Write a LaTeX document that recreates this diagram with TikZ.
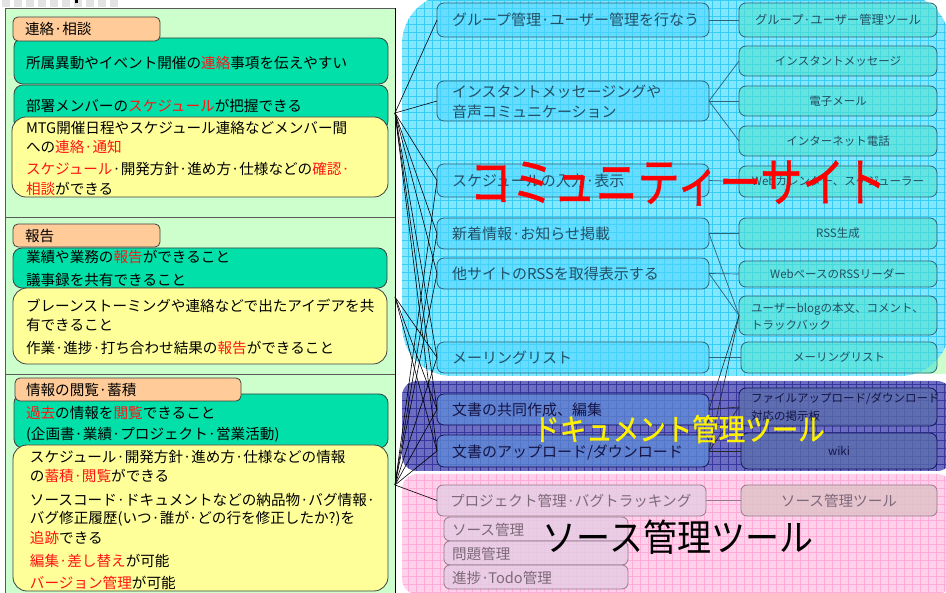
\documentclass[tikz,border=0pt]{standalone}
\usepackage{fontspec}
\usepackage{graphicx}
\setmainfont{Noto Sans CJK JP}
\newfontfamily\titlefont{Noto Sans CJK JP}[FakeBold=0.9]
\usetikzlibrary{fit}
\definecolor{panelgreen}{RGB}{204,255,204}
\definecolor{hdrorange}{RGB}{255,204,153}
\definecolor{boxgreen}{RGB}{0,224,168}
\definecolor{boxyellow}{RGB}{255,255,153}
\definecolor{cyanbg}{RGB}{130,230,255}
\definecolor{cyangrid}{RGB}{55,205,245}
\definecolor{navybg}{RGB}{108,108,192}
\definecolor{navygrid}{RGB}{55,55,160}
\definecolor{pinkbg}{RGB}{255,208,234}
\definecolor{pinkgrid}{RGB}{255,172,218}
\definecolor{cbox}{RGB}{80,215,255}
\definecolor{cbord}{RGB}{45,100,120}
\definecolor{ctext}{RGB}{35,80,100}
\definecolor{tbox}{RGB}{80,225,205}
\definecolor{nbox}{RGB}{95,140,215}
\definecolor{nbord}{RGB}{20,20,90}
\definecolor{ntext}{RGB}{20,20,70}
\definecolor{nrbox}{RGB}{90,110,170}
\definecolor{pbox}{RGB}{228,205,228}
\definecolor{pbord}{RGB}{150,120,140}
\definecolor{ptext}{RGB}{125,105,120}
\definecolor{sbox}{RGB}{222,195,200}
\definecolor{txtred}{RGB}{255,20,20}
\newcommand\fsz[1]{\fontsize{#1}{#1}\selectfont}
\newcommand\redt[1]{\textcolor{txtred}{#1}}
\begin{document}
\begin{tikzpicture}[x=1pt,y=-1pt,
  every node/.style={inner sep=0pt,outer sep=0pt},
  hdr/.style={draw=black!75,fill=hdrorange,rounded corners=5pt,line width=0.8pt},
  gbox/.style={draw=black!75,fill=boxgreen,rounded corners=9pt,line width=0.8pt},
  ybox/.style={draw=black!75,fill=boxyellow,rounded corners=14pt,line width=0.8pt},
  ltxt/.style={anchor=west,font=\fsz{14.6},text=black},
  lbox/.style={draw=cbord,fill=cbox,fill opacity=0.55,rounded corners=7pt,line width=0.8pt},
  rbox/.style={draw=cbord,fill=tbox,fill opacity=0.6,rounded corners=7pt,line width=0.8pt},
  rtxt/.style={font=\fsz{11.5},text=ctext},
  ctxt/.style={anchor=west,font=\fsz{15},text=ctext},
  nlbox/.style={draw=nbord,fill=nbox,fill opacity=0.75,rounded corners=7pt,line width=0.8pt},
  nrbox/.style={draw=nbord,fill=nrbox,fill opacity=0.75,rounded corners=7pt,line width=0.8pt},
  ntxt/.style={anchor=west,font=\fsz{15},text=ntext},
  pkbox/.style={draw=pbord,fill=pbox,fill opacity=0.8,rounded corners=6pt,line width=0.8pt},
  ptxt/.style={anchor=west,font=\fsz{14.6},text=ptext},
  fan/.style={black,line width=0.6pt},
  link/.style={cbord,line width=0.7pt},
  nlink/.style={black!85,line width=0.6pt}]
\useasboundingbox (0,0) rectangle (946,593);
\fill[white] (0,0) rectangle (946,593);
% top strip
\foreach \i in {0,...,9} {\fill[gray!22] (\i*12+2,0) rectangle (\i*12+10,7);}
\fill[black] (75,0) rectangle (78,3);
% left panel
\fill[panelgreen] (5,8) rectangle (395,600);
\draw[black!65,line width=0.9pt] (5,600) -- (5,8) -- (395,8);
\draw[black,line width=0.9pt] (395,8) -- (395,600);
\draw[black!65,line width=0.9pt] (5,217) -- (395,217);
\draw[black!65,line width=0.9pt] (5,374) -- (395,374);
% section 1
\node[gbox,fit={(14,38) (388,84)}] (g1) {};
\node[gbox,fit={(14,85) (388,130)}] (g2) {};
\node[ybox,fit={(12,117) (388,197)}] (y1) {};
\node[hdr,fit={(13,17) (160,41)}] (h1) {};
\node[ltxt] (h1t) at (25,29) {連絡·相談};
\node[ltxt] (g1t) at (26,63) {所属異動やイベント開催の\redt{連絡}事項を伝えやすい};
\node[ltxt] (g2t) at (26,106) {部署メンバーの\redt{スケジュール}が把握できる};
\node[ltxt] (y1a) at (26,128) {MTG開催日程やスケジュール連絡などメンバー間};
\node[ltxt] (y1b) at (26,147) {への\redt{連絡·通知}};
\node[ltxt] (y1c) at (26,169) {\redt{スケジュール}·開発方針·進め方·仕様などの\redt{確認·}};
\node[ltxt] (y1d) at (26,189) {\redt{相談}ができる};
% section 2
\node[gbox,fit={(13,248) (387,288)}] (g3) {};
\node[ybox,fit={(13,288) (387,364)}] (y2) {};
\node[hdr,fit={(13,224) (160,247)}] (h2) {};
\node[ltxt] (h2t) at (25,236) {報告};
\node[ltxt] (g3a) at (26,257) {業績や業務の\redt{報告}ができること};
\node[ltxt] (g3b) at (26,280) {議事録を共有できること};
\node[ltxt] (y2a) at (26,306) {ブレーンストーミングや連絡などで出たアイデアを共};
\node[ltxt] (y2b) at (26,325) {有できること};
\node[ltxt] (y2c) at (26,348) {作業·進捗·打ち合わせ結果の\redt{報告}ができること};
% section 3
\node[gbox,fit={(14,394) (388,448)}] (g4) {};
\node[ybox,fit={(13,445) (388,591)}] (y3) {};
\node[hdr,fit={(15,378) (241,401)}] (h3) {};
\node[ltxt] (h3t) at (26,390) {情報の閲覧·蓄積};
\node[ltxt] (g4a) at (26,413) {\redt{過去}の情報を\redt{閲覧}できること};
\node[ltxt] (g4b) at (26,435) {(企画書·業績·プロジェクト·営業活動)};
\node[ltxt] (y3a) at (30,457) {スケジュール·開発方針·進め方·仕様などの情報};
\node[ltxt] (y3b) at (30,476) {の\redt{蓄積·閲覧}ができる};
\node[ltxt] (y3c) at (30,500) {ソースコード·ドキュメントなどの納品物·バグ情報·};
\node[ltxt] (y3d) at (30,519) {バグ修正履歴(いつ·誰が·どの行を修正したか?)を};
\node[ltxt] (y3e) at (30,538) {\redt{追跡}できる};
\node[ltxt] (y3f) at (30,561) {\redt{編集·差し替え}が可能};
\node[ltxt] (y3g) at (30,583) {\redt{バージョン管理}が可能};
% right backgrounds
\fill[panelgreen] (890,320) rectangle (946,374);
\fill[cyanbg,rounded corners=50pt] (402,-6) rectangle (950,376);
\begin{scope}
\clip[rounded corners=50pt] (402,-6) rectangle (950,376);
\draw[cyangrid,line width=0.5pt,step=8pt] (402,376) grid (950,-6);
\end{scope}
\fill[navybg,rounded corners=15pt] (402,381) rectangle (952,471);
\begin{scope}
\clip[rounded corners=15pt] (402,381) rectangle (952,471);
\draw[navygrid,line width=0.5pt,step=8pt] (402,471) grid (952,381);
\end{scope}
\fill[pinkbg,rounded corners=15pt] (402,474) rectangle (952,594);
\begin{scope}
\clip[rounded corners=15pt] (402,474) rectangle (952,594);
\draw[pinkgrid,line width=0.5pt,step=8pt] (402,594) grid (952,474);
\end{scope}
% left column boxes
\node[lbox,fit={(437,3) (709,37)}] (grp) {};
\node[lbox,fit={(437,81) (709,121)}] (inst) {};
\node[lbox,fit={(437,164) (709,197)}] (sched) {};
\node[lbox,fit={(437,218) (709,249)}] (news) {};
\node[lbox,fit={(437,258) (709,289)}] (rss) {};
\node[lbox,fit={(437,342) (709,373)}] (mail) {};
\node[nlbox,fit={(437,394) (709,425)}] (doc1) {};
\node[nlbox,fit={(437,435) (709,467)}] (doc2) {};
\node[pkbox,fit={(437,485) (706,516)}] (proj) {};
\node[pkbox,fit={(444,517) (628,541)}] (src) {};
\node[pkbox,fit={(444,541) (628,565)}] (iss) {};
\node[pkbox,fit={(444,565) (628,589)}] (prog) {};
\node[ctxt] (grpt) at (452,20) {グループ管理·ユーザー管理を行なう};
\node[ctxt] (insta) at (452,92) {インスタントメッセージングや};
\node[ctxt] (instb) at (452,112) {音声コミュニケーション};
\node[ctxt] (schedt) at (452,181) {スケジュールの入力·表示};
\node[ctxt] (newst) at (452,234) {新着情報·お知らせ掲載};
\node[ctxt] (rsst) at (452,274) {他サイトのRSSを取得表示する};
\node[ctxt] (mailt) at (452,358) {メーリングリスト};
\node[ntxt] (doc1t) at (452,410) {文書の共同作成、編集};
\node[ntxt] (doc2t) at (452,452) {文書のアップロード/ダウンロード};
\node[ptxt] (projt) at (450,501) {プロジェクト管理·バグトラッキング};
\node[ptxt] (srct) at (452,530) {ソース管理};
\node[ptxt] (isst) at (452,554) {問題管理};
\node[ptxt] (progt) at (452,578) {進捗·Todo管理};
% right column boxes
\node[rbox,fit={(739,3) (937,37)}] (grpT) {};
\node[rbox,fit={(739,46) (937,76)}] (im) {};
\node[rbox,fit={(739,86) (937,116)}] (email) {};
\node[rbox,fit={(739,126) (937,156)}] (tel) {};
\node[rbox,fit={(739,166) (937,197)}] (cal) {};
\node[rbox,fit={(739,218) (937,249)}] (rssgen) {};
\node[rbox,fit={(739,261) (937,287)}] (reader) {};
\node[rbox,fit={(739,296) (937,335)}] (blog) {};
\node[rbox,fit={(741,342) (937,373)}] (ml) {};
\node[nrbox,fit={(739,388) (937,426)}] (bbs) {};
\node[nrbox,fit={(741,433) (937,469)}] (wiki) {};
\node[pkbox,fit={(741,485) (937,516)},fill=sbox] (srcT) {};
\node[rtxt,font=\fsz{12.3}] (grpTt) at (grpT.center) {グループ·ユーザー管理ツール};
\node[rtxt] (imt) at (im.center) {インスタントメッセージ};
\node[rtxt] (emailt) at (email.center) {電子メール};
\node[rtxt] (telt) at (tel.center) {インターネット電話};
\node[rtxt] (calt) at (cal.center) {Webカレンダー、スケジューラー};
\node[rtxt] (rssgent) at (rssgen.center) {RSS生成};
\node[rtxt] (readert) at (reader.center) {WebベースのRSSリーダー};
\node[rtxt] (mlt) at (ml.center) {メーリングリスト};
\node[rtxt,text=ntext] (wikit) at (wiki.center) {wiki};
\node[ptxt,anchor=center] (srcTt) at (srcT.center) {ソース管理ツール};
\node[rtxt,anchor=west] (bloga) at (751,309) {ユーザーblogの本文、コメント、};
\node[rtxt,anchor=west] (blogb) at (751,325) {トラックバック};
\node[rtxt,anchor=west,text=ntext] (bbsa) at (751,399) {ファイルアップロード/ダウンロード};
\node[rtxt,anchor=west,text=ntext] (bbsb) at (751,416) {対応の掲示板};
% fan connectors
\coordinate (fA) at (395,113);
\coordinate (fB) at (395,297);
\coordinate (fC) at (395,485);
\foreach \t in {grp,inst,sched,news,rss,mail,doc1,doc2} {\draw[fan] (fA) -- (\t.west);}
\foreach \t in {mail,doc1,doc2} {\draw[fan] (fB) -- (\t.west);}
\foreach \t in {sched,news,rss,mail,doc1,doc2,proj} {\draw[fan] (fC) -- (\t.west);}
% right connectors
\draw[link] (grp.east) -- (grpT.west);
\draw[link] (inst.east) -- (im.west);
\draw[link] (inst.east) -- (email.west);
\draw[link] (inst.east) -- (tel.west);
\draw[link] (sched.east) -- (cal.west);
\draw[link] (news.east) -- (rssgen.west);
\draw[link] (news.east) -- (blog.west);
\draw[link] (rss.east) -- (reader.west);
\draw[link] (rss.east) -- (blog.west);
\draw[link] (mail.east) -- (ml.west);
\draw[nlink] (blog.west) -- (doc1.east);
\draw[nlink] (blog.west) -- (doc2.east);
\draw[nlink] (doc1.east) -- (bbs.west);
\draw[nlink] (doc2.east) -- (bbs.west);
\draw[nlink] (doc2.east) -- (wiki.west);
\draw[pbord,line width=0.7pt] (proj.east) -- (srcT.west);
% titles
\node[font=\titlefont\fsz{42},text=red] (title1) at (678,183) {\scalebox{1}[1.25]{コミュニティーサイト}};
\node[font=\titlefont\fsz{26.5},text=yellow] (title2) at (679,429) {\scalebox{1}[1.15]{ドキュメント管理ツール}};
\node[font=\fsz{34},text=black] (title3) at (678,537) {\scalebox{1}[1.1]{ソース管理ツール}};
\end{tikzpicture}
\end{document}
